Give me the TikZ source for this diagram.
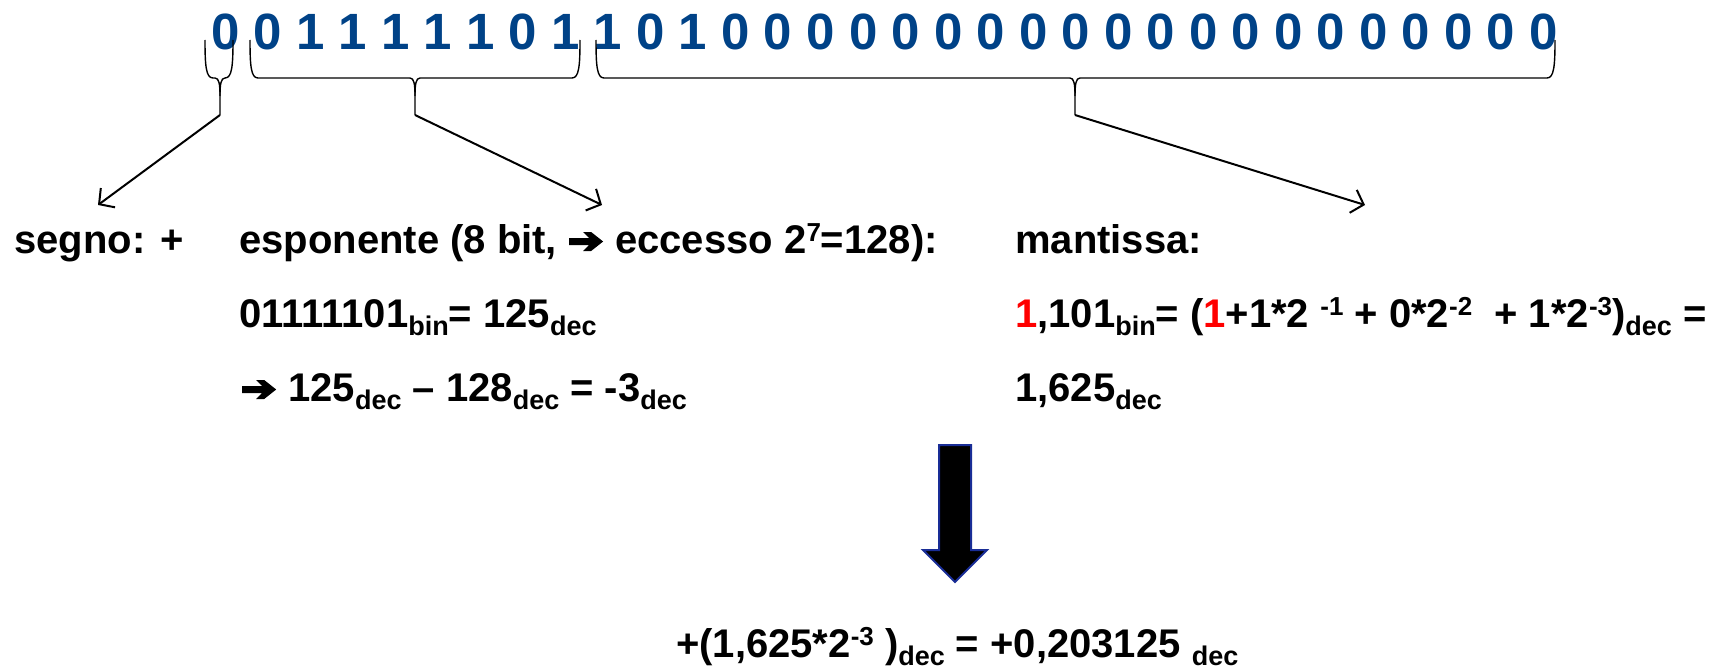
\documentclass[tikz,border=0pt]{standalone}
\usepackage{fontspec}
\setmainfont{Liberation Sans}
\usetikzlibrary{arrows.meta}
\definecolor{bitblue}{RGB}{0,66,135}
\definecolor{arrowrim}{RGB}{25,45,150}
\definecolor{onered}{RGB}{255,0,0}
% small lowered / raised text for bases and exponents
\newcommand{\lowtxt}[1]{\raisebox{-8pt}{\fontsize{27}{27}\selectfont #1}}
\newcommand{\hightxt}[1]{\raisebox{12pt}{\fontsize{26}{26}\selectfont #1}}
% heavy arrow used inside the text lines
\newcommand{\fatarrow}{\tikz[x=1pt,y=1pt,baseline=0pt]{\path (-1,0) rectangle (35,21);
  \fill[black] (0,8) -- (20,8) -- (14,2) -- (22,2) -- (34,11.5) -- (22,21)
    -- (14,21) -- (20,15) -- (0,15) -- cycle;}}
% curly bracket under a group of bits: #1 left x, #2 middle x, #3 right x, #4 name of stem end
\newcommand{\drawbrace}[4]{%
  \draw[brace] (#1,40) .. controls (#1,66) and (#1+1,78) .. (#1+8,78)
    -- (#2-5,78) .. controls (#2-1,78) and (#2,84) .. (#2,96) -- (#2,115) coordinate (#4);
  \draw[brace] (#2,96) .. controls (#2,84) and (#2+1,78) .. (#2+5,78)
    -- (#3-8,78) .. controls (#3-1,78) and (#3,66) .. (#3,40);}
\begin{document}
\begin{tikzpicture}[x=1pt,y=-1pt,
  txt/.style={anchor=base west, inner sep=0pt, font=\fontsize{40}{48}\selectfont\bfseries},
  bits/.style={anchor=base west, inner sep=0pt, text=bitblue, font=\fontsize{51}{60}\selectfont\bfseries},
  brace/.style={line width=1.4pt, line join=round},
  link/.style={line width=2pt, -{Straight Barb[length=11pt,width=24pt]}},
  bigarrow/.style={fill=black, draw=arrowrim, line width=2pt, line join=miter}]
\useasboundingbox (0,0) rectangle (1715,669);

% the 32 bits
\node[bits] (bitrow) at (211,50) {0 0 1 1 1 1 1 0 1 1 0 1 0 0 0 0 0 0 0 0 0 0 0 0 0 0 0 0 0 0 0 0};

% brackets for sign, exponent and mantissa
\drawbrace{205}{220}{233}{stemA}
\drawbrace{250}{415}{580}{stemB}
\drawbrace{596}{1075}{1555}{stemC}

\coordinate (tipA) at (98,205);
\coordinate (tipB) at (602,205);
\coordinate (tipC) at (1365,205);
\draw[link] (stemA) -- (tipA);
\draw[link] (stemB) -- (tipB);
\draw[link] (stemC) -- (tipC);

% fields
\node[txt] (sign) at (14,253) {segno: +};
\node[txt] (expo) at (239,253) {esponente (8 bit, \fatarrow\ eccesso 2\hightxt{7}=128):};
\node[txt] (expbin) at (239,327) {01111101\lowtxt{bin}= 125\lowtxt{dec}};
\node[txt] (expval) at (241,401) {\fatarrow\ 125\lowtxt{dec} – 128\lowtxt{dec} = -3\lowtxt{dec}};
\node[txt] (mant) at (1015,253) {mantissa:};
\node[txt] (mantbin) at (1015,327) {\textcolor{onered}{1},101\lowtxt{bin}= (\textcolor{onered}{1}+1*2 \hightxt{-1} + 0*2\hightxt{-2}\ \ + 1*2\hightxt{-3})\lowtxt{dec} =};
\node[txt] (mantval) at (1015,401) {1,625\lowtxt{dec}};

% block arrow to the result
\draw[bigarrow] (939,445) -- (971,445) -- (971,550) -- (987,550) -- (955,582)
  -- (923,550) -- (939,550) -- cycle;

\node[txt] (result) at (676,657) {+(1,625*2\hightxt{-3} )\lowtxt{dec} = +0,203125 \lowtxt{dec}};
\end{tikzpicture}
\end{document}
